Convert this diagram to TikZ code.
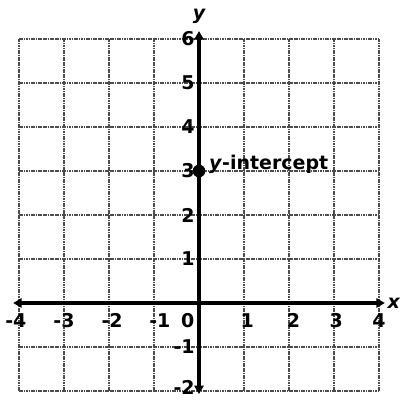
\documentclass[tikz,border=0pt]{standalone}
\usepackage{fontspec}
\setmainfont{DejaVu Sans}
\usetikzlibrary{arrows.meta}
\begin{document}
\begin{tikzpicture}[x=1.125cm,y=1.1cm,
  gridline/.style={black!70,line width=0.9pt,dash pattern=on 1.2pt off 0.5pt},
  axisline/.style={line width=2.2pt,-{Triangle[length=6pt,width=6.5pt]}},
  lbl/.style={font=\bfseries\fontsize{13.5}{15}\selectfont,inner sep=0pt},
  dot/.style={circle,fill=black,inner sep=0pt,minimum size=9pt}]
\useasboundingbox (-4.422,-2.205) rectangle (4.533,6.886);
\foreach \i in {-4,...,4} \draw[gridline] (\i,-2) -- (\i,6);
\foreach \j in {-2,...,6} \draw[gridline] (-4,\j) -- (4,\j);
\coordinate (xl) at (-4.13,0);
\coordinate (xr) at (4.13,0);
\coordinate (yb) at (0,-2.07);
\coordinate (yt) at (0,6.18);
\coordinate (o) at (0,0);
\draw[axisline] (o) -- (xr);
\draw[axisline] (o) -- (xl);
\draw[axisline] (o) -- (yt);
\draw[axisline] (o) -- (yb);
\node[lbl] (xlab) at (4.33,0) {\itshape x};
\node[lbl] (ylab) at (0,6.52) {\itshape y};
\foreach \v/\p in {-4/-4.07,-3/-3.0,-2/-1.93,-1/-0.87,1/1.07,2/2.1,3/3.05,4/4.0}
  \node[lbl] (xt\v) at (\p,-0.39) {\v};
\node[lbl] (x0) at (-0.25,-0.39) {0};
\foreach \v in {6,5,4,3,2,1,-1}
  \node[lbl,anchor=east] (yt\v) at (-0.09,\v) {\v};
\node[lbl,anchor=east] (yt-2) at (-0.09,-1.92) {-2};
\node[dot] (p) at (0,3) {};
\node[lbl,anchor=west] (pl) at (0.22,3.14) {\textit{y}-intercept};
\end{tikzpicture}
\end{document}
